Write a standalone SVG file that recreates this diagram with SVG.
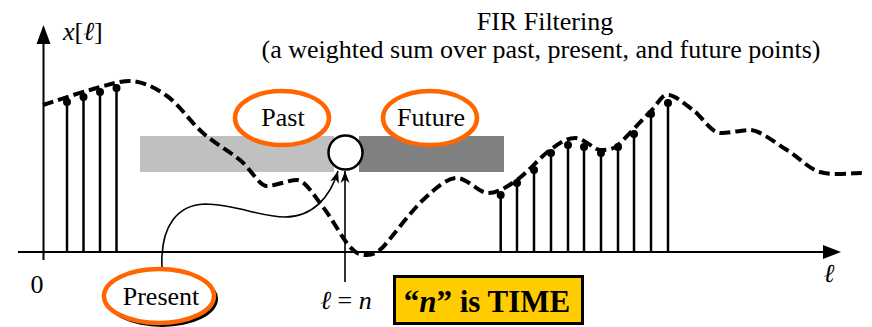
<svg xmlns="http://www.w3.org/2000/svg" width="872" height="327" viewBox="0 0 872 327">
<style>
text{font-family:"Liberation Serif","DejaVu Serif",serif;fill:#000}
.lbl{font-size:26px}
.it{font-style:italic}
.axis{stroke:#000;stroke-width:2;fill:none}
.stem{stroke:#000;stroke-width:2.5}
.dot{fill:#000}
.ring{fill:#fff;stroke:#ff6600;stroke-width:4.5}
.thin{stroke:#000;stroke-width:1.6;fill:none}
</style>
<defs>
<marker id="ah" markerUnits="userSpaceOnUse" markerWidth="14" markerHeight="12" refX="12" refY="5" orient="auto">
<path d="M0,0.5 L12,5 L0,9.5 L3.5,5 Z" fill="#000"/>
</marker>
</defs>
<rect width="872" height="327" fill="#fff"/>

<g id="title">
<text class="lbl" x="545" y="30" text-anchor="middle">FIR Filtering</text>
<text class="lbl" x="541" y="58" text-anchor="middle">(a weighted sum over past, present, and future points)</text>
</g>

<g id="bars">
<rect x="140" y="136" width="194" height="36" fill="#c0c0c0"/>
<rect x="359" y="136" width="145" height="36" fill="#808080"/>
</g>

<g id="axes">
<line class="axis" x1="43.5" y1="260" x2="43.5" y2="40"/>
<polygon points="43.5,25 36.5,44 50.5,44" fill="#000"/>
<line class="axis" x1="18" y1="252" x2="826" y2="252"/>
<polygon points="841,252 823,245 823,259" fill="#000"/>
<text class="lbl" x="63" y="40"><tspan class="it">x</tspan>[<tspan class="it">ℓ</tspan>]</text>
<text class="lbl" x="37" y="293" text-anchor="middle">0</text>
<text class="lbl it" x="829" y="282" text-anchor="middle">ℓ</text>
</g>

<g id="stems">
<line class="stem" x1="67" y1="252" x2="67" y2="102"/><circle class="dot" cx="67" cy="102" r="4"/>
<line class="stem" x1="83.5" y1="252" x2="83.5" y2="97"/><circle class="dot" cx="83.5" cy="97" r="4"/>
<line class="stem" x1="100" y1="252" x2="100" y2="92"/><circle class="dot" cx="100" cy="92" r="4"/>
<line class="stem" x1="116.5" y1="252" x2="116.5" y2="88"/><circle class="dot" cx="116.5" cy="88" r="4"/>
<line class="stem" x1="500.7" y1="252" x2="500.7" y2="195"/><circle class="dot" cx="500.7" cy="195" r="4"/>
<line class="stem" x1="517" y1="252" x2="517" y2="183"/><circle class="dot" cx="517" cy="183" r="4"/>
<line class="stem" x1="534" y1="252" x2="534" y2="170"/><circle class="dot" cx="534" cy="170" r="4"/>
<line class="stem" x1="551" y1="252" x2="551" y2="153"/><circle class="dot" cx="551" cy="153" r="4"/>
<line class="stem" x1="568" y1="252" x2="568" y2="145"/><circle class="dot" cx="568" cy="145" r="4"/>
<line class="stem" x1="584" y1="252" x2="584" y2="147"/><circle class="dot" cx="584" cy="147" r="4"/>
<line class="stem" x1="601" y1="252" x2="601" y2="153"/><circle class="dot" cx="601" cy="153" r="4"/>
<line class="stem" x1="618" y1="252" x2="618" y2="147"/><circle class="dot" cx="618" cy="147" r="4"/>
<line class="stem" x1="634" y1="252" x2="634" y2="134"/><circle class="dot" cx="634" cy="134" r="4"/>
<line class="stem" x1="651" y1="252" x2="651" y2="114"/><circle class="dot" cx="651" cy="114" r="4"/>
<line class="stem" x1="668" y1="252" x2="668" y2="103"/><circle class="dot" cx="668" cy="103" r="4"/>
</g>

<g id="signal">
<path d="M43,105 C50.8,102.5 75.5,94 90,90 C104.5,86 118,81 130,81 C142,81 154.8,87.3 167,96 C179.2,104.7 190.8,122.3 203,133 C215.2,143.7 229.3,151.2 240,160 C250.7,168.8 259,186 267,186 C275,186 289,180 297,180 C305,180 314.2,195.8 323,207 C331.8,218.2 342.7,239 350,247 C357.3,255 361.5,255 367,255 C372.5,255 377,253 383,247 C389,241 410.7,211.5 423,200 C435.3,188.5 447,178 457,178 C467,178 479,193 488,193 C497,193 506.7,187.2 517,180 C527.3,172.8 540.3,157 550,150 C559.7,143 566.7,138 575,138 C583.3,138 595,150 600,150 C605,150 612,150 617,146 C622,142 641.5,120.5 650,112 C658.5,103.5 661,95 668,95 C675,95 684.3,103.7 693,110 C701.7,116.3 711,132.5 720,133 C729,133.5 740,130 750,130 C760,130 775.3,143 787,150 C798.7,157 807.5,168.2 820,172 C832.5,175.8 855,172.8 862,173" fill="none" stroke="#000" stroke-width="4" stroke-dasharray="11,5"/>
</g>

<g id="connectors">
<path class="thin" d="M162,268 C160,225 178,205 205,204 C235,204 260,217 285,217 C312,217 330,198 338,171" marker-end="url(#ah)"/>
<line class="thin" x1="345" y1="282" x2="345" y2="171" marker-end="url(#ah)"/>
</g>

<g id="now">
<circle cx="345.5" cy="152.5" r="17" fill="#fff" stroke="#000" stroke-width="2.5"/>
</g>

<g id="past">
<ellipse class="ring" cx="282" cy="118" rx="47" ry="27"/>
<text class="lbl" x="283" y="126" text-anchor="middle">Past</text>
</g>

<g id="future">
<ellipse class="ring" cx="430" cy="118" rx="47" ry="27"/>
<text class="lbl" x="431" y="126" text-anchor="middle">Future</text>
</g>

<g id="present">
<ellipse cx="162" cy="299" rx="56" ry="28" fill="#000"/>
<ellipse class="ring" cx="159" cy="296" rx="55" ry="27"/>
<text class="lbl" x="161" y="305" text-anchor="middle">Present</text>
</g>

<g id="n-label">
<text class="lbl" x="346" y="309" text-anchor="middle"><tspan class="it">ℓ</tspan> = <tspan class="it">n</tspan></text>
</g>

<g id="time-box">
<rect x="394.5" y="276.5" width="188" height="47" fill="#ffcc00" stroke="#000" stroke-width="3"/>
<text x="487" y="312" text-anchor="middle" style="font-size:31px;font-weight:bold">“<tspan class="it">n</tspan>” is TIME</text>
</g>
</svg>
